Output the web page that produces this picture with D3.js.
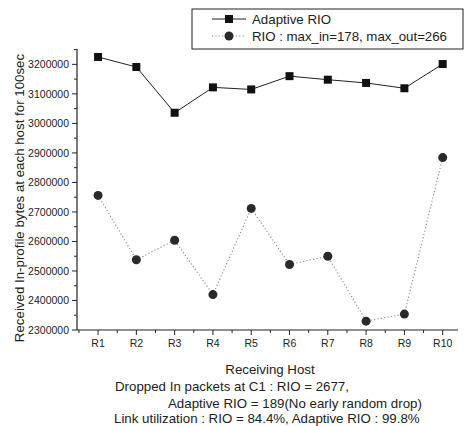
<!DOCTYPE html>
<html><head><meta charset="utf-8">
<script src="https://cdn.jsdelivr.net/npm/d3@7"></script>
<style>body{margin:0;background:#fff}svg{display:block}text{font-family:"Liberation Sans",Arial,sans-serif;fill:#222}</style>
</head><body><svg id="c" width="465" height="426"></svg>
<script>
const categories = ["R1","R2","R3","R4","R5","R6","R7","R8","R9","R10"];
const adaptiveRIO = [3225000,3191000,3036000,3122000,3115000,3160000,3148000,3137000,3119000,3201000];
const rio = [2756000,2538000,2604000,2420000,2712000,2522000,2550000,2330000,2354000,2884000];
const yTicks = [2300000,2400000,2500000,2600000,2700000,2800000,2900000,3000000,3100000,3200000];
const seriesNames = ["Adaptive RIO","RIO : max_in=178, max_out=266"];
const notes = ["Dropped In packets at C1 : RIO = 2677,","Adaptive RIO = 189(No early random drop)","Link utilization : RIO = 84.4%, Adaptive RIO : 99.8%"];

const svg = d3.select("#c");
const L=77, R=458, T=49, B=330;
const x = d3.scaleLinear().domain([0.45,10.4]).range([L,R]);
const y = d3.scaleLinear().domain([2300000,3252000]).range([B,T]);
const ink="#222";

// y axis
const ya = svg.append("g").attr("transform",`translate(${L},0)`);
ya.append("line").attr("y1",T).attr("y2",B).attr("stroke",ink).attr("stroke-width",1.2);
d3.range(2300000,3250001,50000).forEach(v=>{
  const major = v%100000===0;
  ya.append("line").attr("x1",major?-5:-3).attr("x2",0).attr("y1",y(v)).attr("y2",y(v)).attr("stroke",ink);
});
yTicks.forEach(v=>{
  ya.append("text").attr("x",-8).attr("y",y(v)).attr("dy","0.35em").attr("text-anchor","end").attr("font-size",10.5).text(v);
});
// x axis
const xa = svg.append("g").attr("transform",`translate(0,${B})`);
xa.append("line").attr("x1",L).attr("x2",R).attr("stroke",ink).attr("stroke-width",1.2);
categories.forEach((c,i)=>{
  xa.append("line").attr("x1",x(i+1)).attr("x2",x(i+1)).attr("y1",0).attr("y2",5).attr("stroke",ink);
  xa.append("text").attr("x",x(i+1)).attr("y",17).attr("text-anchor","middle").attr("font-size",10.5).text(c);
});
d3.range(0.5,10.5,1).forEach(v=>{
  xa.append("line").attr("x1",x(v)).attr("x2",x(v)).attr("y1",0).attr("y2",3).attr("stroke",ink);
});

// RIO
const line = d3.line().x((d,i)=>x(i+1)).y(d=>y(d));
svg.append("path").datum(rio).attr("d",line).attr("fill","none").attr("stroke","#888").attr("stroke-width",1.1).attr("stroke-dasharray","1.2,2.2");
svg.selectAll(".dot").data(rio).enter().append("circle").attr("cx",(d,i)=>x(i+1)).attr("cy",d=>y(d)).attr("r",4.5).attr("fill","#2a2a2a");
// Adaptive
svg.append("path").datum(adaptiveRIO).attr("d",line).attr("fill","none").attr("stroke","#222").attr("stroke-width",1);
svg.selectAll(".sq").data(adaptiveRIO).enter().append("rect").attr("x",(d,i)=>x(i+1)-4).attr("y",d=>y(d)-4).attr("width",8).attr("height",8).attr("fill","#111");

// legend
const lg = svg.append("g");
lg.append("rect").attr("x",192).attr("y",9).attr("width",271).attr("height",40).attr("fill","#fff").attr("stroke",ink);
lg.append("line").attr("x1",212).attr("x2",246).attr("y1",19).attr("y2",19).attr("stroke","#222");
lg.append("rect").attr("x",225).attr("y",15).attr("width",8).attr("height",8).attr("fill","#111");
lg.append("line").attr("x1",212).attr("x2",246).attr("y1",36).attr("y2",36).attr("stroke","#888").attr("stroke-dasharray","1.2,2.2");
lg.append("circle").attr("cx",229).attr("cy",36).attr("r",4.5).attr("fill","#2a2a2a");
lg.append("text").attr("x",252).attr("y",19).attr("dy","0.35em").attr("font-size",13.3).text(seriesNames[0]);
lg.append("text").attr("x",252).attr("y",36).attr("dy","0.35em").attr("font-size",13.3).attr("textLength",195).text(seriesNames[1]);

// titles
svg.append("text").attr("transform","translate(24,198) rotate(-90)").attr("text-anchor","middle").attr("font-size",13.3).text("Received In-profile bytes at each host for 100sec");
svg.append("text").attr("x",270).attr("y",374).attr("text-anchor","middle").attr("font-size",13.3).text("Receiving Host");
svg.append("text").attr("x",115).attr("y",391).attr("font-size",13.3).text(notes[0]);
svg.append("text").attr("x",168).attr("y",408).attr("font-size",13.3).text(notes[1]);
svg.append("text").attr("x",114).attr("y",423).attr("font-size",13.3).text(notes[2]);
</script></body></html>
